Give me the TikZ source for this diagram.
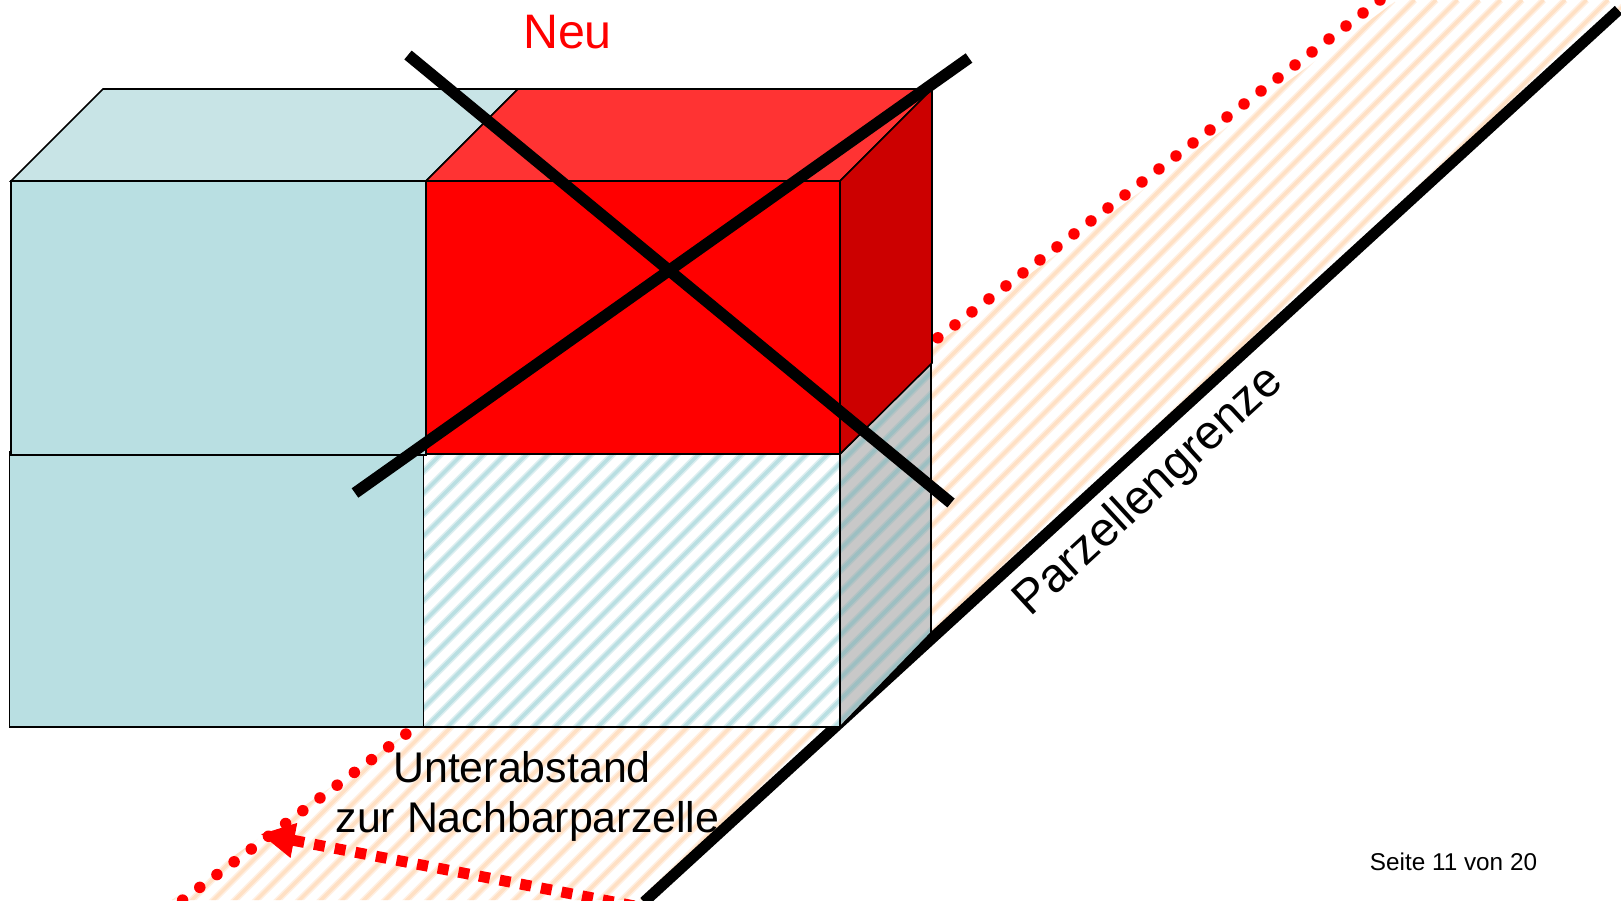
\documentclass[tikz,border=0pt]{standalone}
\usepackage{fontspec}
\setmainfont{Liberation Sans}
\usetikzlibrary{arrows.meta}
\definecolor{blueface}{HTML}{B9DFE2}
\definecolor{bluetop}{HTML}{C8E4E6}
\definecolor{redtop}{HTML}{FF3333}
\definecolor{redside}{HTML}{CC0000}
\definecolor{orangehatch}{HTML}{FFE0C4}
\definecolor{greyside}{HTML}{C8C8C8}
\definecolor{greyhatch}{HTML}{9DBFC2}
\tikzset{
  face/.style={draw=black,line width=1.6pt,line join=miter},
  crossbar/.style={draw=black,line width=11.5pt},
  boundary/.style={draw=black,line width=11pt},
  dotline/.style={draw=red,line width=11.5pt,line cap=round,dash pattern=on 0pt off 21.4pt},
  spacing/.style={draw=red,line width=11pt,dash pattern=on 11pt off 10pt,dash phase=10pt,-{Triangle[length=34pt,width=33pt]}},
  stripesoft/.style={line width=6.6pt,line cap=butt,opacity=0.5},
  stripecore/.style={line width=3.4pt,line cap=butt},
  lbl/.style={inner sep=0pt,anchor=base,text=black}
}
\newcommand{\stripes}[2]{%
  \foreach \c in {0,1,...,125}{%
    \pgfmathsetmacro{\d}{#2+\c*21.5}%
    \draw[stripesoft,draw=#1] (\d,0) -- (\d-1000,1000);%
    \draw[stripecore,draw=#1] (\d,0) -- (\d-1000,1000);%
  }%
}
\begin{document}
\begin{tikzpicture}[x=1pt,y=-1pt]
\useasboundingbox (0,0) rectangle (1621,900);
\clip (0,0) rectangle (1621,900);
\fill[white] (0,0) rectangle (1621,900);
% orange hatched strip
\begin{scope}
  \clip (1397,0) -- (1621,0) -- (1621,10) -- (646,900) -- (172,900) -- (414,728) -- (931,348) -- cycle;
  \stripes{orangehatch}{17}
\end{scope}
\coordinate (dotA) at (1380,0);
\coordinate (dotB) at (947,331);
\coordinate (dotC) at (414,728);
\coordinate (dotD) at (172,908);
\draw[dotline] (dotA) -- (dotB) -- (dotC) -- (dotD);
\coordinate (bndA) at (1618.5,10);
\coordinate (bndB) at (644,902);
\draw[boundary] (bndA) -- (bndB);
% lower storey
\path[face,fill=blueface] (9.5,452) rectangle (423.5,727);
\begin{scope}
  \clip (423.5,454) rectangle (840,727);
  \fill[white] (423.5,454) rectangle (840,727);
  \stripes{blueface}{13.5}
\end{scope}
\draw[face] (423.5,454) rectangle (840,727);
\begin{scope}
  \clip (840,454) -- (931,363) -- (931,633) -- (840,727) -- cycle;
  \fill[greyside] (840,454) -- (931,363) -- (931,633) -- (840,727) -- cycle;
  \stripes{greyhatch}{13.5}
\end{scope}
\draw[face] (840,454) -- (931,363) -- (931,633) -- (840,727) -- cycle;
% upper storey
\path[face,fill=bluetop] (11,181) -- (103,89) -- (518,89) -- (426,181) -- cycle;
\path[face,fill=blueface] (11,181) rectangle (426,455);
\path[face,fill=redtop] (426,181) -- (518,89) -- (932,89) -- (840,181) -- cycle;
\path[face,fill=redside] (840,181) -- (932,89) -- (932,363) -- (840,454) -- cycle;
\path[face,fill=red] (426,181) rectangle (840,454);
% cross
\coordinate (crA) at (408,55);
\coordinate (crB) at (951,503);
\coordinate (crC) at (969,58);
\coordinate (crD) at (355,493);
\draw[crossbar] (crA) -- (crB);
\draw[crossbar] (crC) -- (crD);
% spacing arrow
\coordinate (arrS) at (645,908);
\coordinate (arrE) at (260.5,834);
\draw[spacing] (arrS) -- (arrE);
% labels
\node[lbl,text=red,font=\fontsize{48.4}{48.4}\selectfont] (neu) at (567.5,48.5) {Neu};
\node[lbl,font=\fontsize{42.9}{42.9}\selectfont] (unter) at (522,782) {Unterabstand};
\node[lbl,font=\fontsize{42.9}{42.9}\selectfont] (nach) at (527.5,832.5) {zur Nachbarparzelle};
\node[lbl,rotate=42.6,font=\fontsize{47.8}{47.8}\selectfont] (parz) at (1158,501) {Parzellengrenze};
\node[lbl,font=\fontsize{24.3}{24.3}\selectfont] (seite) at (1453.5,870) {Seite 11 von 20};
\end{tikzpicture}
\end{document}
